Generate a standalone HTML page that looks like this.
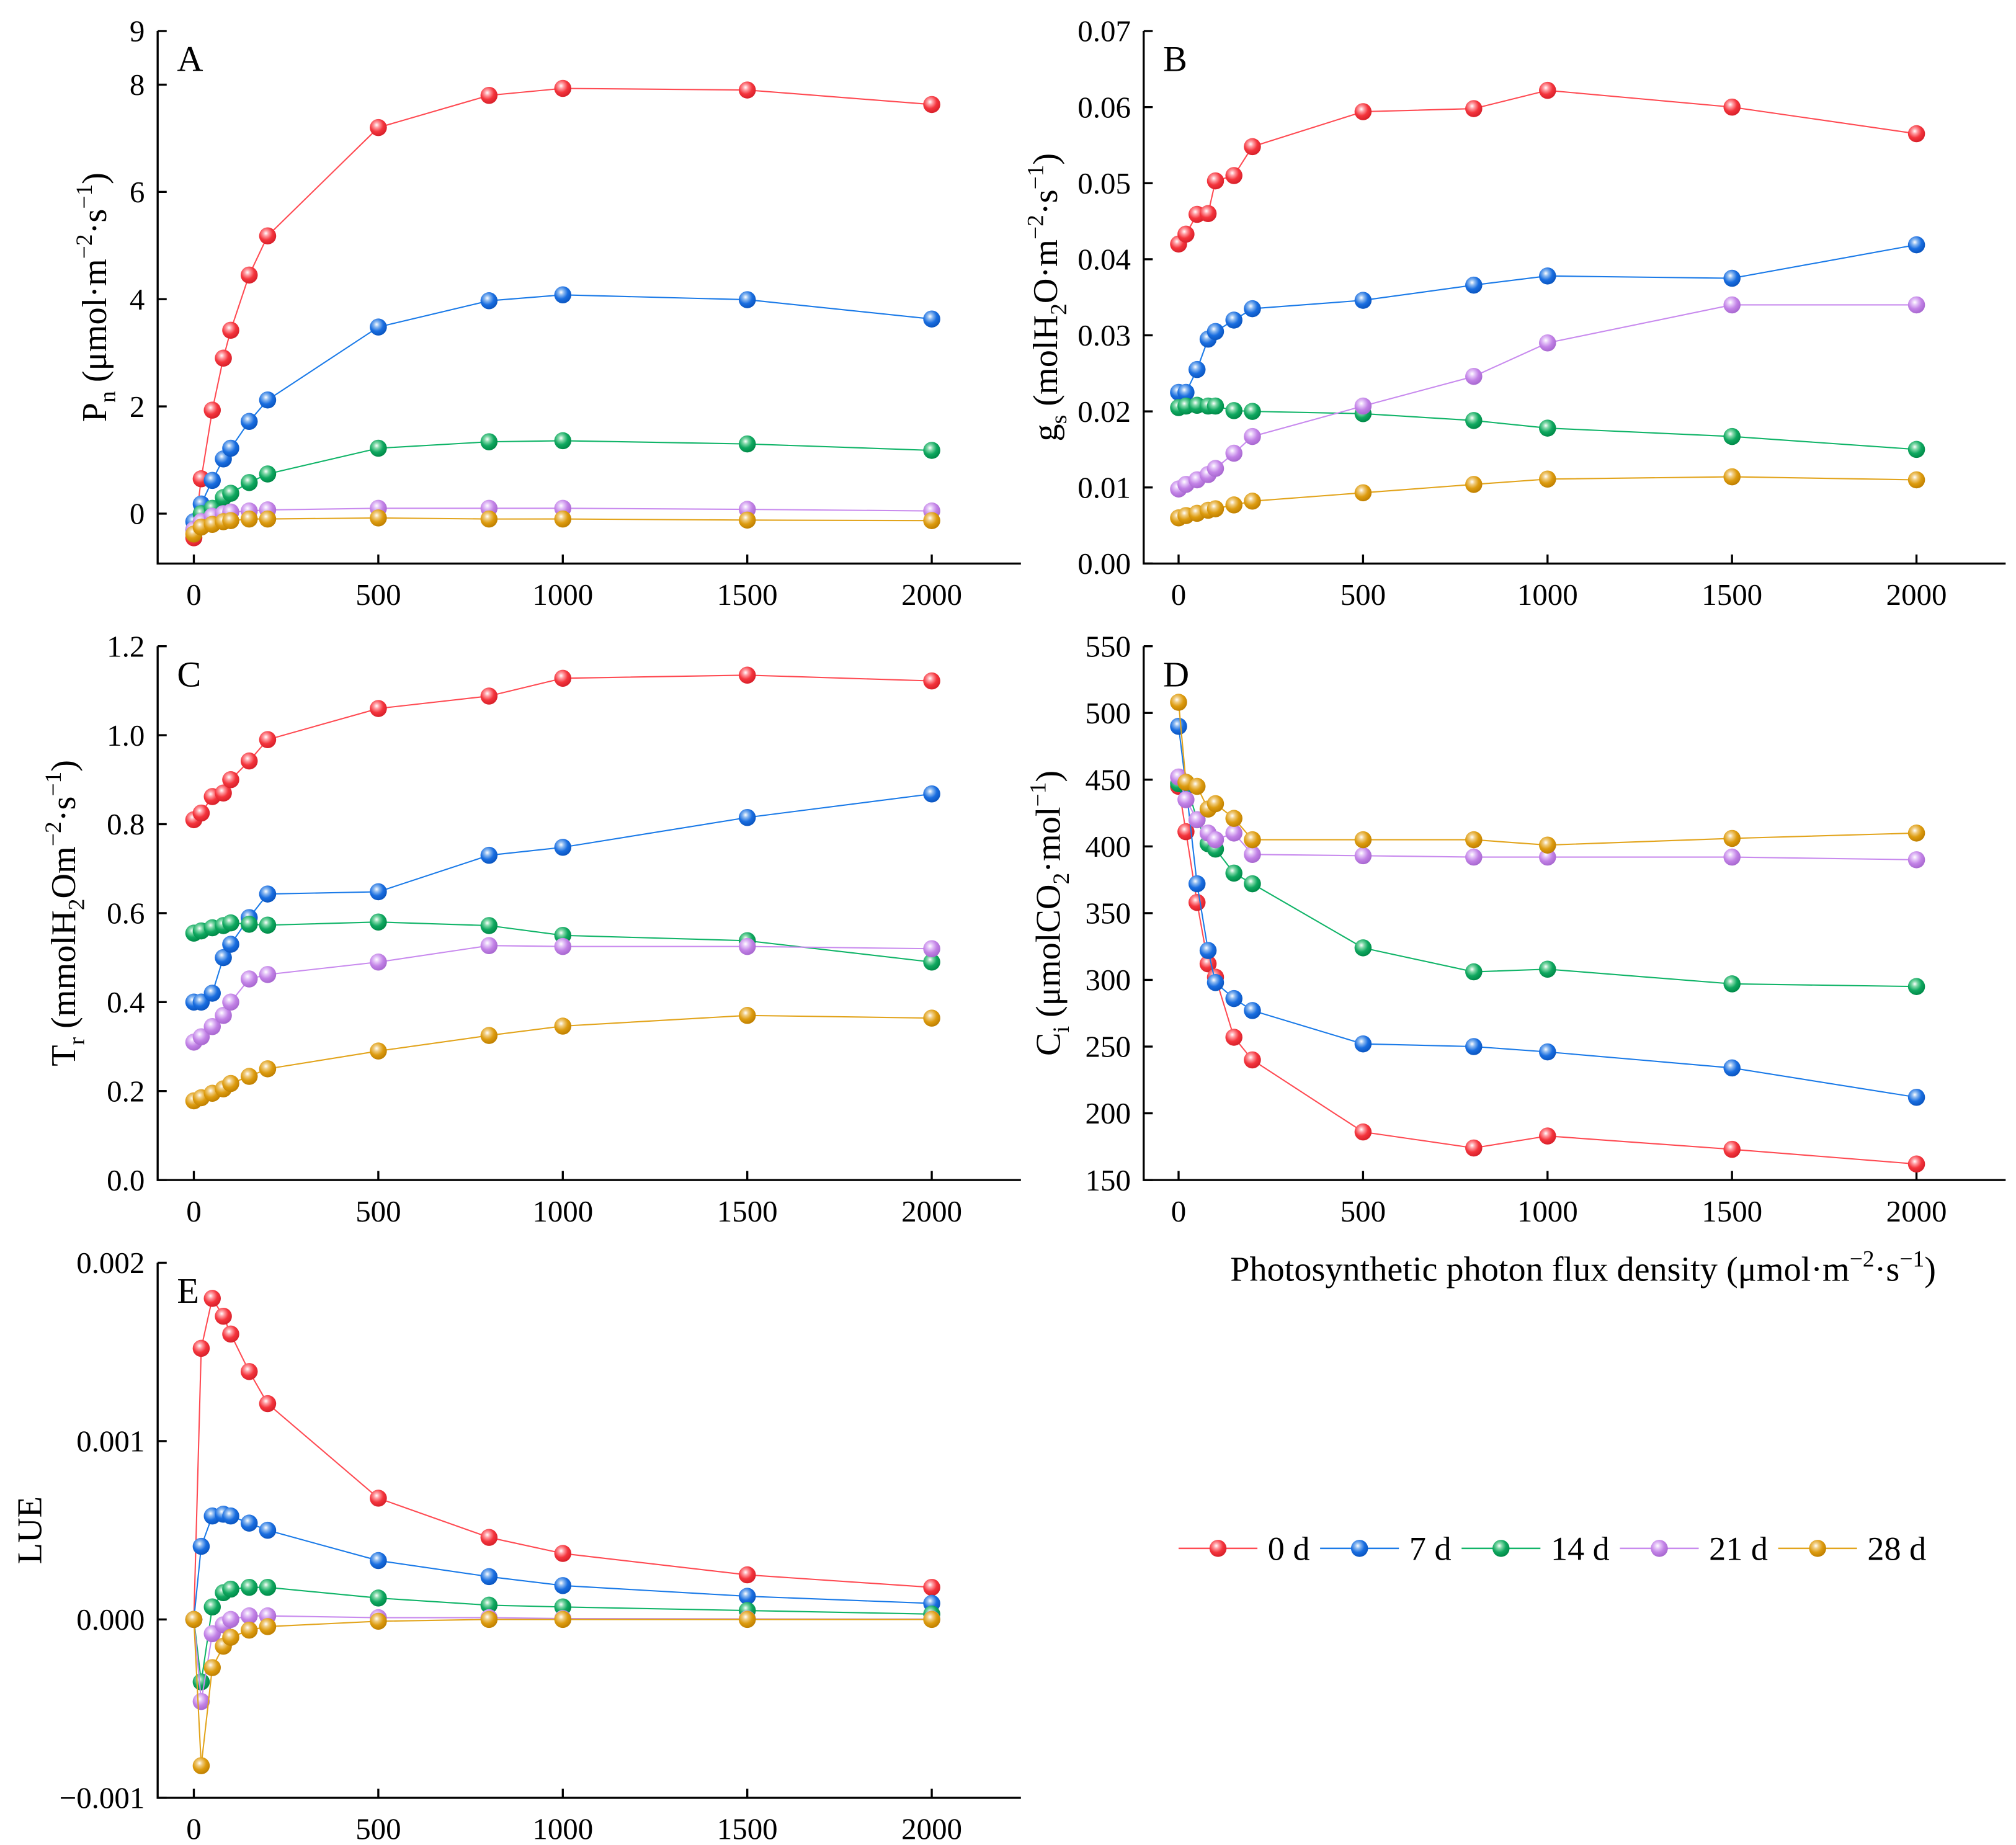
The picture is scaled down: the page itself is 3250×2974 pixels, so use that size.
<!DOCTYPE html>
<html><head><meta charset="utf-8"><style>
html,body{margin:0;padding:0;background:#fff}
svg{display:block}
text{font-family:"Liberation Serif",serif;fill:#000}
</style></head><body>
<svg id="fig" width="3250" height="2974" viewBox="0 0 1560 1427.5" xmlns="http://www.w3.org/2000/svg">
<defs>
<radialGradient id="g0" cx="0.4" cy="0.35" r="0.65"><stop offset="0" stop-color="#fff"/><stop offset="0.25" stop-color="#ff9aa0"/><stop offset="0.6" stop-color="#f4353d"/><stop offset="1" stop-color="#d8202a"/></radialGradient>
<radialGradient id="g1" cx="0.4" cy="0.35" r="0.65"><stop offset="0" stop-color="#fff"/><stop offset="0.25" stop-color="#8ab8f0"/><stop offset="0.6" stop-color="#1a6ee0"/><stop offset="1" stop-color="#0a55c0"/></radialGradient>
<radialGradient id="g2" cx="0.4" cy="0.35" r="0.65"><stop offset="0" stop-color="#fff"/><stop offset="0.25" stop-color="#80d8a8"/><stop offset="0.6" stop-color="#10a860"/><stop offset="1" stop-color="#008a48"/></radialGradient>
<radialGradient id="g3" cx="0.4" cy="0.35" r="0.65"><stop offset="0" stop-color="#fff"/><stop offset="0.25" stop-color="#e4c4f8"/><stop offset="0.6" stop-color="#c282e6"/><stop offset="1" stop-color="#a868d0"/></radialGradient>
<radialGradient id="g4" cx="0.4" cy="0.35" r="0.65"><stop offset="0" stop-color="#fff"/><stop offset="0.25" stop-color="#f0cc80"/><stop offset="0.6" stop-color="#dd9c10"/><stop offset="1" stop-color="#c08000"/></radialGradient>
</defs>
</svg>
<script>
const ppfd=[0,20,50,80,100,150,200,500,800,1000,1500,2000];
const seriesNames=["0 d","7 d","14 d","21 d","28 d"];
const pnRed=[-0.45,0.65,1.93,2.9,3.42,4.45,5.18,7.2,7.8,7.93,7.9,7.63];
const pnBlue=[-0.15,0.18,0.62,1.02,1.22,1.72,2.12,3.48,3.97,4.08,3.99,3.63];
const pnGreen=[-0.3,0.0,0.1,0.3,0.38,0.58,0.74,1.22,1.34,1.36,1.3,1.18];
const pnPurple=[-0.3,-0.15,-0.05,0.0,0.03,0.05,0.07,0.1,0.1,0.1,0.08,0.05];
const pnOrange=[-0.38,-0.25,-0.2,-0.15,-0.13,-0.1,-0.1,-0.08,-0.1,-0.1,-0.12,-0.13];
const gsRed=[0.042,0.0433,0.0459,0.046,0.0503,0.051,0.0548,0.0594,0.0598,0.0622,0.06,0.0565];
const gsBlue=[0.0225,0.0225,0.0255,0.0295,0.0305,0.032,0.0335,0.0346,0.0366,0.0378,0.0375,0.0419];
const gsGreen=[0.0205,0.0207,0.0208,0.0207,0.0207,0.0201,0.02,0.0197,0.0188,0.0178,0.0167,0.015];
const gsPurple=[0.0098,0.0104,0.011,0.0117,0.0125,0.0145,0.0167,0.0207,0.0246,0.029,0.034,0.034];
const gsOrange=[0.006,0.0063,0.0066,0.007,0.0072,0.0077,0.0082,0.0093,0.0104,0.0111,0.0114,0.011];
const trRed=[0.81,0.825,0.862,0.87,0.9,0.942,0.99,1.06,1.088,1.128,1.135,1.122];
const trBlue=[0.4,0.4,0.42,0.5,0.53,0.59,0.643,0.648,0.73,0.748,0.815,0.868];
const trGreen=[0.555,0.56,0.567,0.572,0.578,0.575,0.573,0.58,0.572,0.55,0.538,0.49];
const trPurple=[0.31,0.322,0.345,0.37,0.4,0.452,0.462,0.49,0.527,0.525,0.525,0.52];
const trOrange=[0.178,0.185,0.195,0.205,0.217,0.233,0.25,0.29,0.325,0.346,0.37,0.364];
const ciRed=[445,411,358,312,302,257,240,186,174,183,173,162];
const ciBlue=[490,445,372,322,298,286,277,252,250,246,234,212];
const ciGreen=[447,448,420,402,398,380,372,324,306,308,297,295];
const ciPurple=[452,435,420,410,405,410,394,393,392,392,392,390];
const ciOrange=[508,448,445,428,432,421,405,405,405,401,406,410];
const lueRed=[0,0.00152,0.0018,0.0017,0.0016,0.00139,0.00121,0.00068,0.00046,0.00037,0.00025,0.00018];
const lueBlue=[0,0.00041,0.00058,0.00059,0.00058,0.00054,0.0005,0.00033,0.00024,0.00019,0.00013,0.00009];
const lueGreen=[0,-0.00035,0.00007,0.00015,0.00017,0.00018,0.00018,0.00012,0.00008,0.00007,0.00005,0.00003];
const luePurple=[0,-0.00046,-0.00008,-0.00003,0,0.00002,0.00002,0.00001,0.00001,0.000005,0.000003,0.000002];
const lueOrange=[0,-0.00082,-0.00027,-0.00015,-0.0001,-0.00006,-0.00004,-0.00001,0,0,0,0];
const xTicks=[0,500,1000,1500,2000];
const pnTicks=[0,2,4,6,8,9];
const gsTicks=[0,0.01,0.02,0.03,0.04,0.05,0.06,0.07];
const trTicks=[0,0.2,0.4,0.6,0.8,1.0,1.2];
const ciTicks=[150,200,250,300,350,400,450,500,550];
const lueTicks=[-0.001,0,0.001,0.002];
const lineColors=["#ff4a52","#1a7ae8","#10b468","#c88aee","#e2a41c"];

const NS="http://www.w3.org/2000/svg";
const svg=document.getElementById('fig');
function mk(tag,attrs,parent){const e=document.createElementNS(NS,tag);for(const k in attrs)e.setAttribute(k,attrs[k]);(parent||svg).appendChild(e);return e;}

function panel(cfg){
  const g=mk('g',{});
  
  
  const xs=v=>cfg.x0+v*(cfg.x2000-cfg.x0)/2000;
  const ys=v=>cfg.yB+(v-cfg.yMin)*(cfg.yT-cfg.yB)/(cfg.yMax-cfg.yMin);
  const ax=mk('path',{d:`M${cfg.left},${cfg.yT} V${cfg.yB} H${cfg.right}`,fill:'none',stroke:'#000','stroke-width':1.6},g);
  
  
  cfg.yTicks.forEach((t,i)=>{
    const y=ys(t);
    mk('line',{x1:cfg.left,x2:cfg.left+7,y1:y,y2:y,stroke:'#000','stroke-width':1.6},g);
    const tx=mk('text',{x:cfg.left-10,y:y+8,'text-anchor':'end','font-size':23.5},g);
    tx.textContent=cfg.yLabels[i];
    
    
  });
  xTicks.forEach(t=>{
    const x=xs(t);
    mk('line',{x1:x,x2:x,y1:cfg.yB,y2:cfg.yB-7,stroke:'#000','stroke-width':1.6},g);
    const tx=mk('text',{x:x,y:cfg.yB+32,'text-anchor':'middle','font-size':23.5},g);
    tx.textContent=String(t);
    
    
  });
  const lt=mk('text',{x:cfg.left+15,y:cfg.yT+31,'font-size':28},g);
  lt.textContent=cfg.letter;
  
  
  const yt=mk('text',{x:0,y:0,'text-anchor':'middle','font-size':27,transform:`translate(${cfg.ytx},${(cfg.yT+cfg.yB)/2}) rotate(-90)`},g);
  yt.innerHTML=cfg.ytitle;
  
  
  cfg.series.forEach((vals,si)=>{
    const sg=mk('g',{},g);
    
    
    const pts=ppfd.map((p,i)=>xs(p).toFixed(2)+','+ys(vals[i]).toFixed(2)).join(' ');
    mk('polyline',{points:pts,fill:'none',stroke:lineColors[si],'stroke-width':1},sg);
    ppfd.forEach((p,i)=>{
      const c=mk('circle',{cx:xs(p),cy:ys(vals[i]),r:6.6,fill:`url(#g${si})`},sg);
      
      
    });
  });
}
const SUP=(s)=>`<tspan dy="-11" font-size="18">${s}</tspan><tspan dy="11">`;
const SUB=(s)=>`<tspan dy="7" font-size="18">${s}</tspan><tspan dy="-7">`;
panel({name:'panel-a-pn',letter:'A',left:122,right:790,x0:150,x2000:721,yT:24,yB:436,yMin:-0.93,yMax:9,
  yTicks:pnTicks,yLabels:pnTicks.map(String),ytx:82,
  ytitle:`P${SUB('n')} (μmol·m</tspan>${SUP('−2')}·s</tspan>${SUP('−1')})</tspan>`,
  series:[pnRed,pnBlue,pnGreen,pnPurple,pnOrange]});
panel({name:'panel-b-gs',letter:'B',left:885,right:1552,x0:912,x2000:1483,yT:24,yB:436,yMin:0,yMax:0.07,
  yTicks:gsTicks,yLabels:gsTicks.map(v=>v.toFixed(2)),ytx:818,
  ytitle:`g${SUB('s')} (molH</tspan>${SUB('2')}O·m</tspan>${SUP('−2')}·s</tspan>${SUP('−1')})</tspan>`,
  series:[gsRed,gsBlue,gsGreen,gsPurple,gsOrange]});
panel({name:'panel-c-tr',letter:'C',left:122,right:790,x0:150,x2000:721,yT:500,yB:913,yMin:0,yMax:1.2,
  yTicks:trTicks,yLabels:trTicks.map(v=>v.toFixed(1)),ytx:58,
  ytitle:`T${SUB('r')} (mmolH</tspan>${SUB('2')}Om</tspan>${SUP('−2')}·s</tspan>${SUP('−1')})</tspan>`,
  series:[trRed,trBlue,trGreen,trPurple,trOrange]});
panel({name:'panel-d-ci',letter:'D',left:885,right:1552,x0:912,x2000:1483,yT:500,yB:913,yMin:150,yMax:550,
  yTicks:ciTicks,yLabels:ciTicks.map(String),ytx:820,
  ytitle:`C${SUB('i')} (μmolCO</tspan>${SUB('2')}·mol</tspan>${SUP('−1')})</tspan>`,
  series:[ciRed,ciBlue,ciGreen,ciPurple,ciOrange]});
panel({name:'panel-e-lue',letter:'E',left:122,right:790,x0:150,x2000:721,yT:977,yB:1391,yMin:-0.001,yMax:0.002,
  yTicks:lueTicks,yLabels:["−0.001","0.000","0.001","0.002"],ytx:32,
  ytitle:`LUE`,
  series:[lueRed,lueBlue,lueGreen,luePurple,lueOrange]});

const xt=mk('text',{x:1225,y:991,'text-anchor':'middle','font-size':27});
xt.innerHTML=`Photosynthetic photon flux density (μmol·m${SUP('−2')}·s</tspan>${SUP('−1')})</tspan>`;



const lg=mk('g',{});


let lx=912;const ly=1198;
seriesNames.forEach((n,si)=>{
  const eg=mk('g',{},lg);
  
  
  mk('line',{x1:lx,x2:lx+61,y1:ly,y2:ly,stroke:lineColors[si],'stroke-width':1.2},eg);
  mk('circle',{cx:lx+30.5,cy:ly,r:6.6,fill:`url(#g${si})`},eg);
  const t=mk('text',{x:lx+69,y:ly+9,'font-size':26},eg);
  t.textContent=n;
  lx=lx+69+t.getComputedTextLength()+8;
});
</script>
</body></html>
